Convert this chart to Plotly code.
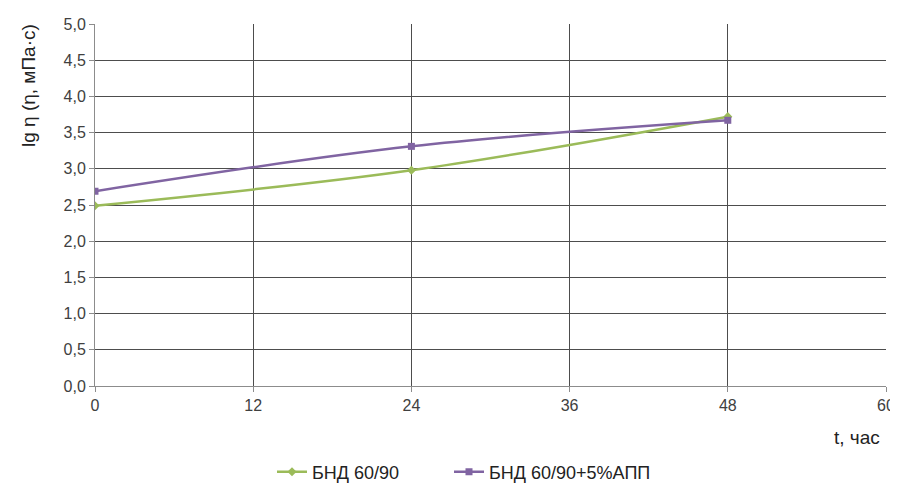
import plotly.graph_objects as go

t_hours = [0, 24, 48]
bnd = [2.49, 2.98, 3.72]
bnd_app = [2.69, 3.31, 3.67]
names = ["БНД 60/90", "БНД 60/90+5%АПП"]

# the page body has an 8px margin, so the figure is drawn 8px in from the edges
OFF = 8
W, H = 898 - OFF, 484 - OFF
ML, MR, MT, MB = 95 - OFF, 12, 24 - OFF, 4
PW, PH = W - ML - MR, H - MT - MB


def px_x(x):
    return (x - OFF - ML) / PW


def px_y(y):
    return (H - MB - (y - OFF)) / PH


fig = go.Figure()
fig.add_trace(go.Scatter(x=t_hours, y=bnd, name=names[0], mode="lines+markers",
                         legend="legend",
                         line=dict(color="#9BBB59", width=2.5, shape="spline", smoothing=1.0),
                         marker=dict(symbol="diamond", size=7, color="#9BBB59")))
fig.add_trace(go.Scatter(x=t_hours, y=bnd_app, name=names[1], mode="lines+markers",
                         legend="legend2",
                         line=dict(color="#8064A2", width=2.5, shape="spline", smoothing=1.0),
                         marker=dict(symbol="square", size=7, color="#8064A2")))

leg_common = dict(orientation="h", xanchor="left", yanchor="middle", y=px_y(472),
                  font=dict(size=18, color="#222222"), itemwidth=30,
                  bgcolor="rgba(0,0,0,0)")

fig.update_layout(
    width=W, height=H,
    margin=dict(l=ML, r=MR, t=MT, b=MB, autoexpand=False),
    plot_bgcolor="white", paper_bgcolor="white",
    separators=",.",
    font=dict(family="Liberation Sans, Arial, sans-serif", size=16, color="#404040"),
    showlegend=True,
    legend=dict(x=px_x(272), **leg_common),
    legend2=dict(x=px_x(449), **leg_common),
    xaxis=dict(range=[0, 60], tickvals=[0, 12, 24, 36, 48, 60], showgrid=True,
               gridcolor="#4d4d4d", gridwidth=1, showline=True, linecolor="#8c8c8c",
               ticks="outside", ticklen=5, tickcolor="#8c8c8c", zeroline=False,
               tickfont=dict(size=16, color="#404040"), automargin=False),
    yaxis=dict(range=[0, 5], dtick=0.5, tickformat=".1f", showgrid=True,
               gridcolor="#4d4d4d", gridwidth=1, showline=True, linecolor="#8c8c8c",
               ticks="outside", ticklen=5, tickcolor="#8c8c8c", zeroline=False,
               tickfont=dict(size=16, color="#404040"), automargin=False,
               domain=[px_y(386), 1]),
    annotations=[
        dict(text="t, час", x=px_x(857), y=px_y(437), xref="paper", yref="paper",
             xanchor="center", yanchor="middle",
             showarrow=False, font=dict(size=19, color="#222222")),
        dict(text="lg η (η, мПа·с)", x=px_x(28), y=px_y(86), xref="paper", yref="paper",
             xanchor="center", yanchor="middle",
             showarrow=False, textangle=-90, font=dict(size=19, color="#222222")),
    ],
)

fig.write_html("out.html")
